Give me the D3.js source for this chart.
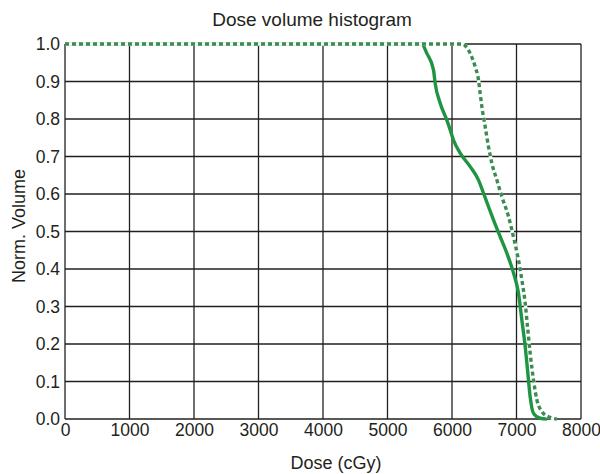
<!DOCTYPE html>
<html>
<head>
<meta charset="utf-8">
<script src="https://cdn.jsdelivr.net/npm/d3@7"></script>
<style>
  body { margin: 0; background: #fff; }
  text { font-family: "Liberation Sans", Arial, sans-serif; fill: #231f20; }
</style>
</head>
<body>
<svg id="chart"></svg>
<script>
// Dose (cGy) and normalised volume
const solidDose = [0, 5530, 5610, 5713, 5739, 5817, 5920, 5972, 6023, 6127, 6282, 6411, 6489, 6566, 6643, 6747, 6851, 6954, 7031, 7083, 7135, 7171, 7212, 7264, 7367, 7470];
const solidVol  = [1, 1.0, 0.975, 0.931, 0.895, 0.842, 0.797, 0.771, 0.744, 0.709, 0.673, 0.637, 0.602, 0.566, 0.531, 0.486, 0.442, 0.389, 0.335, 0.264, 0.193, 0.131, 0.059, 0.015, 0.002, 0];

const dottedDose = [0, 6152, 6282, 6360, 6411, 6437, 6463, 6515, 6566, 6618, 6696, 6773, 6876, 6964, 7031, 7083, 7135, 7171, 7212, 7264, 7316, 7393, 7496, 7626];
const dottedVol  = [1, 1.0, 0.975, 0.939, 0.904, 0.868, 0.833, 0.779, 0.726, 0.682, 0.637, 0.593, 0.540, 0.477, 0.424, 0.371, 0.309, 0.246, 0.175, 0.104, 0.051, 0.020, 0.006, 0];

const xTicks = [0, 1000, 2000, 3000, 4000, 5000, 6000, 7000, 8000];
const yTicks = [0, 0.1, 0.2, 0.3, 0.4, 0.5, 0.6, 0.7, 0.8, 0.9, 1.0];

const width = 600, height = 474;
const margin = {top: 44, right: 19, bottom: 55, left: 65};
const w = width - margin.left - margin.right;
const h = height - margin.top - margin.bottom;
const font = '"Liberation Sans", Arial, sans-serif';

const svg = d3.select('#chart').attr('width', width).attr('height', height);
const g = svg.append('g').attr('transform', `translate(${margin.left},${margin.top})`);

const x = d3.scaleLinear().domain([0, 8000]).range([0, w]);
const y = d3.scaleLinear().domain([0, 1]).range([h, 0]);

// grid
g.selectAll('.vgrid').data(xTicks).join('line')
    .attr('x1', d => x(d)).attr('x2', d => x(d))
    .attr('y1', 0).attr('y2', h)
    .attr('stroke', '#231f20').attr('stroke-width', 1.3);
g.selectAll('.hgrid').data(yTicks).join('line')
    .attr('y1', d => y(d)).attr('y2', d => y(d))
    .attr('x1', 0).attr('x2', w)
    .attr('stroke', '#231f20').attr('stroke-width', 1.3);

// tick labels
const xAxis = d3.axisBottom(x).tickValues(xTicks).tickSize(0).tickPadding(5).tickFormat(d3.format('d'));
const yAxis = d3.axisLeft(y).tickValues(yTicks).tickSize(0).tickPadding(5).tickFormat(d3.format('.1f'));
g.append('g').attr('transform', `translate(0,${h})`).call(xAxis)
    .call(a => a.select('.domain').remove())
    .selectAll('text').style('font-size', '17.5px').style('font-family', font).attr('fill', '#231f20');
g.append('g').call(yAxis)
    .call(a => a.select('.domain').remove())
    .selectAll('text').style('font-size', '17.5px').style('font-family', font).attr('fill', '#231f20');

const line = d3.line().x(d => x(d[0])).y(d => y(d[1])).curve(d3.curveMonotoneX);
const solid = solidDose.map((d, i) => [d, solidVol[i]]);
const dotted = dottedDose.map((d, i) => [d, dottedVol[i]]);

g.append('path').datum(solid).attr('d', line)
    .attr('fill', 'none').attr('stroke', '#1f9443').attr('stroke-width', 3.4)
    .attr('stroke-linejoin', 'round');

// white under the dotted line hides the border along the top
g.append('path').datum(dotted).attr('d', line)
    .attr('fill', 'none').attr('stroke', '#fff').attr('stroke-width', 3.5);
g.append('path').datum(dotted).attr('d', line)
    .attr('fill', 'none').attr('stroke', '#3a8c52').attr('stroke-width', 3.4)
    .attr('stroke-dasharray', '4,3');

svg.append('text').attr('x', 312).attr('y', 26)
    .attr('text-anchor', 'middle').style('font-size', '19px').text('Dose volume histogram');
svg.append('text').attr('x', 336).attr('y', 469)
    .attr('text-anchor', 'middle').style('font-size', '18px').text('Dose (cGy)');
svg.append('text').attr('transform', `translate(25,226) rotate(-90)`)
    .attr('text-anchor', 'middle').style('font-size', '18px').text('Norm. Volume');
</script>
</body>
</html>
